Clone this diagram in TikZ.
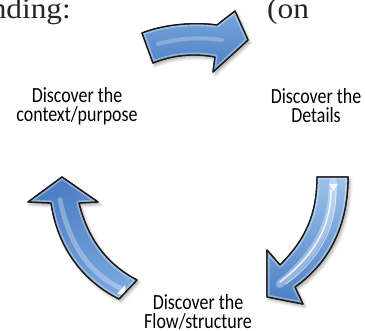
\documentclass[tikz,border=0pt]{standalone}
\usepackage{fontspec}
\setmainfont{Carlito}
\newfontfamily\labelfont[FakeStretch=0.83]{Carlito}
\newfontfamily\headfont[FakeStretch=1.08]{Liberation Serif}
\usetikzlibrary{shadows.blur}

\definecolor{arrowtop}{HTML}{78A6DE}
\definecolor{arrowbot}{HTML}{4C7EC2}
\definecolor{arrowlight}{HTML}{9CC3EE}
\definecolor{outline}{HTML}{1A1A1A}

% outlines of the three curved cycle arrows (px units, y downwards)
\def\shapeTop{(142,33) .. controls (165,24) and (195,22) .. (217,25) -- (235,11) -- (248,40) -- (213,72) -- (215,57) .. controls (195,53) and (172,55) .. (153,63) -- cycle}
\def\shapeLeft{(62,177) -- (98,202) -- (79,203) .. controls (88,240) and (108,265) .. (137,280) -- (119,299) .. controls (85,282) and (58,250) .. (51,203) -- (28,202) -- cycle}
\def\shapeRight{(317,177) -- (348,177) .. controls (348,225) and (330,262) .. (295,287) -- (303,304) -- (267,297) -- (267,250) -- (280,265) .. controls (305,240) and (317,215) .. (317,177) -- cycle}

\begin{document}
\begin{tikzpicture}[x=1pt,y=-1pt,
  cyclelabel/.style={font=\labelfont\fontsize{21.6}{19}\selectfont, align=center, inner sep=0pt, anchor=base},
  headtext/.style={font=\headfont\fontsize{29}{32}\selectfont, inner sep=0pt, text=black!85},
  curvearrow/.style={draw=outline, line width=1.3pt, line join=round,
    blur shadow={shadow xshift=2pt, shadow yshift=-2.5pt, shadow blur radius=3pt, shadow opacity=35}},
  bevel/.style={draw=white, draw opacity=0.35, line width=5pt, line join=round},
  gloss/.style={draw=white, line cap=round},
]
\useasboundingbox (0,0) rectangle (365,331);

% running text cut by the picture
\node[headtext, anchor=base east] (pre) at (71,18.5) {nding:};
\node[headtext, anchor=base west] (post) at (267,18.5) {(on};

% top arrow
\path[curvearrow, top color=arrowtop, bottom color=arrowbot] \shapeTop;
\begin{scope}
  \clip \shapeTop;
  \path[bevel] \shapeTop;
  \draw[gloss, opacity=0.25, line width=4pt] (158,44) .. controls (180,38) and (200,37) .. (222,40);
\end{scope}
\path[draw=outline, line width=1.3pt, line join=round] \shapeTop;

% left arrow
\path[curvearrow, left color=arrowbot, right color=arrowtop, shading angle=30] \shapeLeft;
\begin{scope}
  \clip \shapeLeft;
  \path[bevel] \shapeLeft;
  \draw[gloss, opacity=0.3, line width=5pt] (60,200) .. controls (70,245) and (88,272) .. (120,288);
  \fill[white, opacity=0.9] (117,294) -- (125,285) -- (125,295) -- cycle;
\end{scope}
\path[draw=outline, line width=1.3pt, line join=round] \shapeLeft;

% right arrow
\path[curvearrow, top color=arrowlight, bottom color=arrowbot] \shapeRight;
\begin{scope}
  \clip \shapeRight;
  \path[bevel] \shapeRight;
  \draw[gloss, opacity=0.35, line width=8pt] (333,182) .. controls (333,225) and (315,255) .. (280,284);
  \draw[gloss, opacity=0.8, line width=1.6pt] (331,190) .. controls (331,228) and (313,256) .. (280,282);
  \draw[gloss, opacity=0.6, line width=1pt] (336,190) .. controls (336,230) and (318,260) .. (286,284);
  \fill[white, opacity=0.85] (329,184) -- (338,184) -- (333.5,191) -- cycle;
\end{scope}
\path[draw=outline, line width=1.3pt, line join=round] \shapeRight;

% step labels (anchored at the baseline of their last line)
\node[cyclelabel] (ctx) at (77,122) {Discover the\\context/purpose};
\node[cyclelabel] (det) at (316,123) {Discover the\\Details};
\node[cyclelabel] (flow) at (198,329) {Discover the\\Flow/structure};
\end{tikzpicture}
\end{document}
